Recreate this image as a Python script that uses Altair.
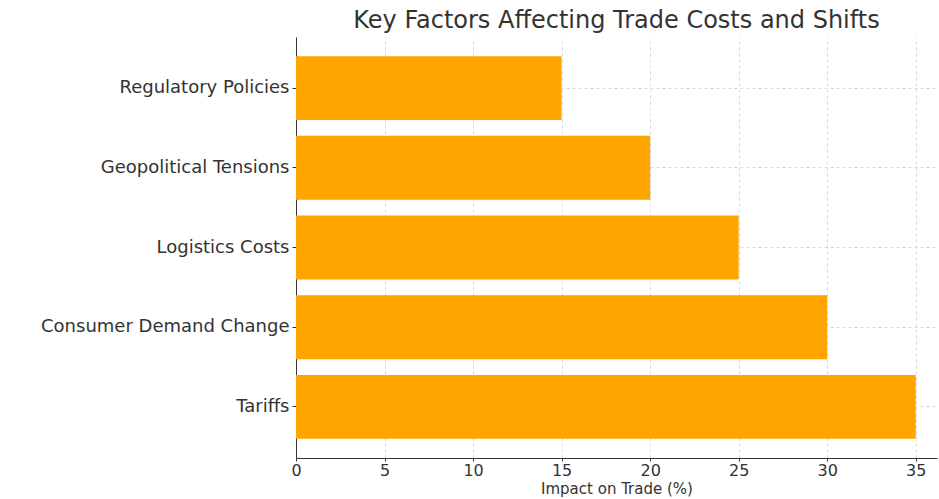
import altair as alt
import pandas as pd

factors = ["Regulatory Policies", "Geopolitical Tensions", "Logistics Costs", "Consumer Demand Change", "Tariffs"]
impact = [15, 20, 25, 30, 35]
x_ticks = [0, 5, 10, 15, 20, 25, 30, 35]

df = pd.DataFrame({"factor": factors, "impact": impact})

chart = alt.Chart(df).mark_bar(color="#FFA500").encode(
    x=alt.X("impact:Q", title="Impact on Trade (%)",
            scale=alt.Scale(domain=[0, 36.2], nice=False, zero=True),
            axis=alt.Axis(values=x_ticks, format="d", grid=True, gridDash=[3, 3],
                          gridColor="#d8d8d8", domainColor="#333333", tickColor="#333333",
                          labelFontSize=16, titleFontSize=15, labelColor="#333333",
                          titleColor="#333333", titleFontWeight="normal", labelPadding=1,
                          titlePadding=3, tickSize=3, labelFlush=False)),
    y=alt.Y("factor:N", title=None, sort=factors,
            scale=alt.Scale(paddingInner=0.2, paddingOuter=0.24),
            axis=alt.Axis(grid=True, gridDash=[3, 3], gridColor="#d8d8d8", bandPosition=0.5,
                          domainColor="#333333", tickColor="#333333", labelFontSize=18,
                          labelColor="#333333", tickSize=4, labelPadding=3, labelLimit=300)),
).properties(
    width=641, height=421,
    title=alt.TitleParams("Key Factors Affecting Trade Costs and Shifts", fontSize=24,
                          fontWeight="normal", color="#333333", anchor="middle", offset=4),
    autosize=alt.AutoSizeParams(type="none"),
    padding={"left": 296, "top": 37, "right": 2, "bottom": 41},
).configure(font="DejaVu Sans").configure_view(stroke=None)

chart.save("out.html", embed_options={"renderer": "svg", "actions": False})
